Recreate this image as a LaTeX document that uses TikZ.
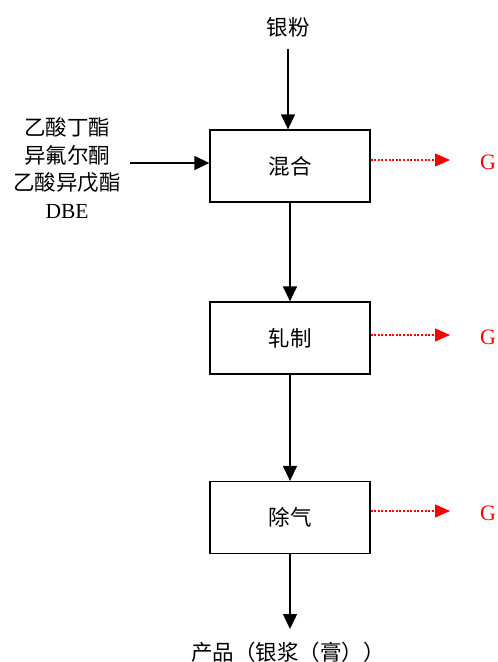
\documentclass[tikz,border=0pt]{standalone}
\usepackage{fontspec}
\setmainfont{Liberation Serif}
\newfontfamily\cjk{Noto Sans CJK SC}
\usetikzlibrary{arrows.meta}
\begin{document}
\begin{tikzpicture}[x=1pt,y=-1pt,
  every node/.style={font=\cjk\fontsize{21.5}{27.5}\selectfont},
  procbox/.style={draw,line width=1.3pt,minimum width=160pt,minimum height=72pt,inner sep=0pt},
  flow/.style={line width=1.4pt,-{Triangle[length=15pt,width=14pt]}},
  vent/.style={red,line width=1.1pt,dash pattern=on 2pt off 1.6pt,-{Triangle[length=15pt,width=13pt]}},
  gas/.style={red,font=\rmfamily\fontsize{22}{24}\selectfont}]
\useasboundingbox (0,0) rectangle (498,662);

% process steps
\node[procbox] (mix)  at (290,166) {混合};
\node[procbox] (roll) at (290,338) {轧制};
\node[procbox] (gas3) at (290,517.5) {除气};

% feeds and product
\node (ag) at (288,27) {银粉};
\coordinate (agend) at (288,49);
\node[align=center] (solv) at (67,168) {乙酸丁酯\\异氟尔酮\\乙酸异戊酯\\{\rmfamily DBE}};
\coordinate (solvend) at (130,163);
\node (prod) at (288,652) {产品（银浆（膏））};
\coordinate (prodtop) at (290,629);

\draw[flow] (agend) -- (ag.south |- mix.north);
\draw[flow] (solvend) -- (solvend -| mix.west);
\draw[flow] (mix.south) -- (roll.north);
\draw[flow] (roll.south) -- (gas3.north);
\draw[flow] (gas3.south) -- (prodtop);

% off-gas streams
\node[gas] (g1) at (488,162) {G};
\node[gas] (g2) at (488,337) {G};
\node[gas] (g3) at (488,513) {G};
\coordinate (v1) at (450,160);
\coordinate (v2) at (450,335);
\coordinate (v3) at (450,511);
\draw[vent] (mix.east |- v1) -- (v1);
\draw[vent] (roll.east |- v2) -- (v2);
\draw[vent] (gas3.east |- v3) -- (v3);
\end{tikzpicture}
\end{document}
